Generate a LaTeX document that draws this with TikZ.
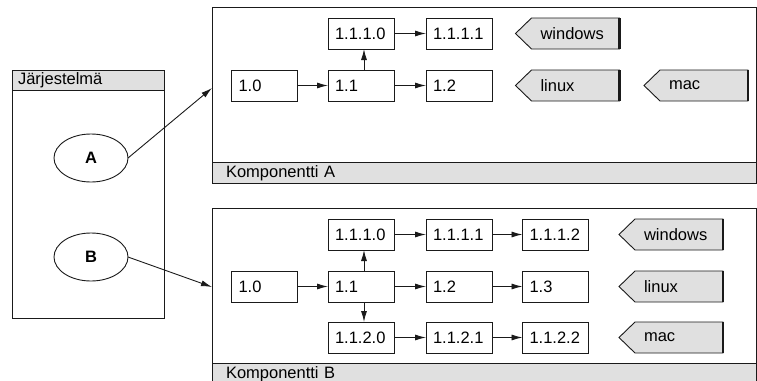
\documentclass[tikz,border=0pt]{standalone}
\usepackage{fontspec}
\setmainfont{Liberation Sans}
\usetikzlibrary{arrows.meta,shapes.geometric,calc}
\pgfdeclarelayer{backdrop}
\pgfdeclarelayer{background}
\pgfsetlayers{backdrop,background,main}
\definecolor{panel}{HTML}{E0E0E0}
\definecolor{ink}{HTML}{1A1A1A}

% platform tag: grey pentagon pointing left, heavier right edge
\newcommand\platformtag[1]{%
  \begin{pgfonlayer}{background}
    \draw[draw=ink, fill=panel, line width=0.9pt, line join=miter]
      (#1.north east) -- (#1.north west) -- ($(#1.west)+(-16,0)$)
      -- (#1.south west) -- (#1.south east) -- cycle;
    \draw[draw=ink, line width=2.2pt] (#1.north east) -- (#1.south east);
  \end{pgfonlayer}}

\begin{document}
\begin{tikzpicture}[x=1pt, y=-1pt,
  font=\fontsize{16.5}{19}\selectfont,
  every node/.style={inner sep=0pt, outer sep=0pt},
  stepbox/.style={draw=ink, line width=0.9pt, fill=white,
    minimum width=66pt, minimum height=31pt, text width=52pt, align=left},
  tagbody/.style={minimum width=88pt, minimum height=31pt,
    text width=70pt, align=left},
  framebox/.style={draw=ink, line width=0.9pt, fill=white, anchor=north west},
  bar/.style={draw=ink, line width=0.9pt, fill=panel, minimum height=20.5pt, align=left},
  usecase/.style={ellipse, draw=ink, line width=0.9pt, fill=white,
    minimum width=74pt, minimum height=48pt, font=\fontsize{16.5}{19}\selectfont\bfseries},
  arr/.style={draw=ink, line width=0.9pt, -{Latex[length=11pt,width=6pt]}}
]
\useasboundingbox (0,0) rectangle (757,380);

% ---------- system box ----------
\node[framebox, minimum width=152pt, minimum height=248pt] (sys) at (12,70) {};
\node[bar, anchor=north west, minimum width=152pt, text width=140pt] (sysbar) at (sys.north west) {Järjestelmä};
\node[usecase] (ucA) at (91,158) {A};
\node[usecase] (ucB) at (91,257) {B};

% ---------- component frames ----------
\begin{pgfonlayer}{backdrop}
\node[framebox, minimum width=544pt, minimum height=176pt] (compA) at (212,7) {};
\node[bar, anchor=south west, minimum width=544pt, text width=516pt] (barA) at (compA.south west) {Komponentti A};
\node[framebox, minimum width=544pt, minimum height=176pt] (compB) at (212,208) {};
\node[bar, anchor=south west, minimum width=544pt, text width=516pt] (barB) at (compB.south west) {Komponentti B};
\end{pgfonlayer}

% ---------- component A ----------
\node[stepbox] (a10)   at (264.5,85.5) {1.0};
\node[stepbox] (a11)   at (361,85.5)   {1.1};
\node[stepbox] (a12)   at (459,85.5)   {1.2};
\node[stepbox] (a1110) at (361,33.5)   {1.1.1.0};
\node[stepbox] (a1111) at (459,33.5)   {1.1.1.1};

\node[tagbody] (awin) at (575.5,33.5) {windows};
\node[tagbody] (alin) at (575.5,85.5) {linux};
\node[tagbody] (amac) at (704,85.5)   {mac};
\platformtag{awin}\platformtag{alin}\platformtag{amac}

\draw[arr] (a10) -- (a11);
\draw[arr] (a11) -- (a12);
\draw[arr] ([xshift=3pt]a11.north) -- ([xshift=3pt]a1110.south);
\draw[arr] (a1110) -- (a1111);

% ---------- component B ----------
\node[stepbox] (b10)   at (264.5,286.5) {1.0};
\node[stepbox] (b11)   at (361,286.5)   {1.1};
\node[stepbox] (b12)   at (459,286.5)   {1.2};
\node[stepbox] (b13)   at (555.5,286.5) {1.3};
\node[stepbox] (b1110) at (361,234.5)   {1.1.1.0};
\node[stepbox] (b1111) at (459,234.5)   {1.1.1.1};
\node[stepbox] (b1112) at (555.5,234.5) {1.1.1.2};
\node[stepbox] (b1120) at (361,337.5)   {1.1.2.0};
\node[stepbox] (b1121) at (459,337.5)   {1.1.2.1};
\node[stepbox] (b1122) at (555.5,337.5) {1.1.2.2};

\node[tagbody] (bwin) at (679,234.5) {windows};
\node[tagbody] (blin) at (679,286.5) {linux};
\node[tagbody] (bmac) at (679,337.5) {mac};
\platformtag{bwin}\platformtag{blin}\platformtag{bmac}

\draw[arr] (b10) -- (b11);
\draw[arr] (b11) -- (b12);
\draw[arr] (b12) -- (b13);
\draw[arr] ([xshift=3pt]b11.north) -- ([xshift=3pt]b1110.south);
\draw[arr] ([xshift=3pt]b11.south) -- ([xshift=3pt]b1120.north);
\draw[arr] (b1110) -- (b1111);
\draw[arr] (b1111) -- (b1112);
\draw[arr] (b1120) -- (b1121);
\draw[arr] (b1121) -- (b1122);

% ---------- links from use cases to components ----------
\coordinate (inA) at (212,88);
\coordinate (inB) at (212,287);
\draw[arr] (ucA.east) -- (inA);
\draw[arr] (ucB.east) -- (inB);
\end{tikzpicture}
\end{document}
